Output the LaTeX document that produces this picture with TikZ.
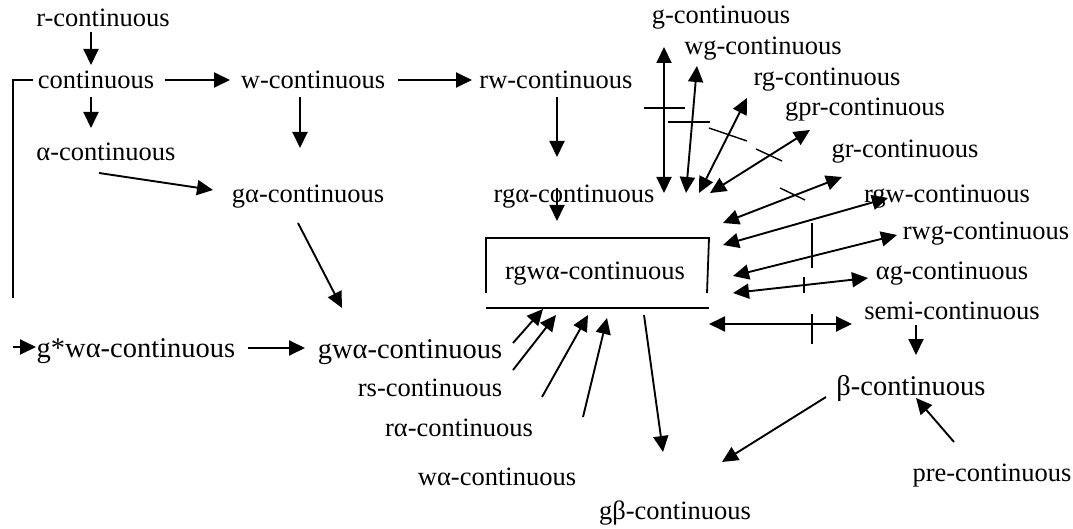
\documentclass[tikz,border=0pt]{standalone}
\usepackage{fontspec}
\setmainfont{Liberation Serif}
\usetikzlibrary{arrows.meta}
\begin{document}
\begin{tikzpicture}[x=1pt,y=-1pt,
  lbl/.style={inner sep=0pt, font=\fontsize{26.5}{30}\selectfont},
  big/.style={inner sep=0pt, font=\fontsize{28.5}{32}\selectfont},
  arr/.style={line width=1.9pt, -{Triangle[length=16pt,width=15pt]}},
  darr/.style={line width=1.9pt, {Triangle[length=16pt,width=15pt]}-{Triangle[length=16pt,width=15pt]}},
  tick/.style={line width=1.4pt},
  ln/.style={line width=1.8pt}]
\useasboundingbox (0,0) rectangle (1073,529);

% labels
\node[lbl] (r) at (103,18) {r-continuous};
\node[lbl] (c) at (96,80) {continuous};
\node[lbl] (a) at (106,152) {α-continuous};
\node[lbl] (w) at (313,80) {w-continuous};
\node[lbl] (ga) at (308,197) {gα-continuous};
\node[lbl] (rw) at (556,80) {rw-continuous};
\node[lbl] (rga) at (574,197) {rgα-continuous};
\node[lbl] (g) at (721,18) {g-continuous};
\node[lbl] (wg) at (763,49) {wg-continuous};
\node[lbl] (rg) at (827,80) {rg-continuous};
\node[lbl] (gpr) at (865,110) {gpr-continuous};
\node[lbl] (gr) at (905,152) {gr-continuous};
\node[lbl] (rgw) at (947,197) {rgw-continuous};
\node[lbl] (rwg) at (986,234) {rwg-continuous};
\node[lbl] (ag) at (952,274) {αg-continuous};
\node[lbl] (semi) at (952,311) {semi-continuous};
\node[big] (b) at (911,388) {β-continuous};
\node[lbl] (pre) at (992,476) {pre-continuous};
\node[lbl] (gb) at (675,513) {gβ-continuous};
\node[lbl] (wa) at (497,477) {wα-continuous};
\node[big] (gwa) at (410,352) {gwα-continuous};
\node[lbl] (rs) at (430,388) {rs-continuous};
\node[lbl] (ra) at (459,428) {rα-continuous};
\node[big] (gswa) at (136,351) {g*wα-continuous};
\node[lbl] (box) at (595,274) {rgwα-continuous};

% box around rgwa
\coordinate (bx1) at (486,293); \coordinate (bx2) at (486,238);
\coordinate (bx3) at (709,238); \coordinate (bx4) at (707,293);
\coordinate (bl1) at (486,308); \coordinate (bl2) at (709,308);
\draw[ln] (bx1) -- (bx2) -- (bx3) -- (bx4);
\draw[ln] (bl1) -- (bl2);

% left part
\coordinate (r1) at (91,32); \coordinate (r2) at (91,65);
\draw[arr] (r1) -- (r2);
\coordinate (c1) at (91,97); \coordinate (c2) at (91,128);
\draw[arr] (c1) -- (c2);
\coordinate (c3) at (165,80); \coordinate (c4) at (230,80);
\draw[arr] (c3) -- (c4);
\coordinate (w1) at (300,97); \coordinate (w2) at (300,148);
\draw[arr] (w1) -- (w2);
\coordinate (w3) at (398,80); \coordinate (w4) at (472,80);
\draw[arr] (w3) -- (w4);
\coordinate (a1) at (99,173); \coordinate (a2) at (213,190);
\draw[arr] (a1) -- (a2);
\coordinate (ga1) at (298,223); \coordinate (ga2) at (342,308);
\draw[arr] (ga1) -- (ga2);
\coordinate (s1) at (248,348); \coordinate (s2) at (305,348);
\draw[arr] (s1) -- (s2);
\coordinate (k1) at (33,80); \coordinate (k2) at (13,298);
\draw[ln] (k1) -| (k2);
\coordinate (k3) at (13,347); \coordinate (k4) at (36,347);
\draw[arr] (k3) -- (k4);

% rw / rga
\coordinate (rw1) at (557,97); \coordinate (rw2) at (557,157);
\draw[arr] (rw1) -- (rw2);
\coordinate (rg1) at (557,188); \coordinate (rg2) at (557,221);
\draw[arr] (rg1) -- (rg2);

% top-right double arrows with ticks
\coordinate (g1) at (664,47); \coordinate (g2) at (664,193);
\draw[darr] (g1) -- (g2);
\coordinate (gt1) at (644,108); \coordinate (gt2) at (685,108);
\draw[tick] (gt1) -- (gt2);

\coordinate (wg1) at (697,66); \coordinate (wg2) at (686,193);
\draw[darr] (wg1) -- (wg2);
\coordinate (wgt1) at (668,122); \coordinate (wgt2) at (710,122);
\draw[tick] (wgt1) -- (wgt2);

\coordinate (rgg1) at (747,98); \coordinate (rgg2) at (699,193);
\draw[darr] (rgg1) -- (rgg2);
\coordinate (rgt1) at (709,128); \coordinate (rgt2) at (747,141);
\draw[tick] (rgt1) -- (rgt2);

\coordinate (gp1) at (810,130); \coordinate (gp2) at (710,193);
\draw[darr] (gp1) -- (gp2);
\coordinate (gpt1) at (756,149); \coordinate (gpt2) at (782,161);
\draw[tick] (gpt1) -- (gpt2);

\coordinate (gr1) at (842,177); \coordinate (gr2) at (723,223);
\draw[darr] (gr1) -- (gr2);
\coordinate (grt1) at (780,188); \coordinate (grt2) at (805,200);
\draw[tick] (grt1) -- (grt2);

\coordinate (rgw1) at (888,198); \coordinate (rgw2) at (723,245);
\draw[darr] (rgw1) -- (rgw2);
\coordinate (rwg1) at (897,235); \coordinate (rwg2) at (733,276);
\draw[darr] (rwg1) -- (rwg2);
\coordinate (vt1) at (812,223); \coordinate (vt2) at (812,268);
\draw[tick] (vt1) -- (vt2);

\coordinate (ag1) at (868,278); \coordinate (ag2) at (733,293);
\draw[darr] (ag1) -- (ag2);
\coordinate (agt1) at (804,277); \coordinate (agt2) at (804,293);
\draw[tick] (agt1) -- (agt2);

\coordinate (sm1) at (852,324); \coordinate (sm2) at (709,324);
\draw[darr] (sm1) -- (sm2);
\coordinate (smt1) at (812,314); \coordinate (smt2) at (812,344);
\draw[tick] (smt1) -- (smt2);

% lower right
\coordinate (sb1) at (916,325); \coordinate (sb2) at (916,355);
\draw[arr] (sb1) -- (sb2);
\coordinate (pb1) at (954,442); \coordinate (pb2) at (916,398);
\draw[arr] (pb1) -- (pb2);
\coordinate (bg1) at (826,397); \coordinate (bg2) at (722,462);
\draw[arr] (bg1) -- (bg2);
\coordinate (xg1) at (644,315); \coordinate (xg2) at (663,452);
\draw[arr] (xg1) -- (xg2);

% lower arrows into box
\coordinate (gb1) at (513,343); \coordinate (gb2) at (543,309);
\draw[arr] (gb1) -- (gb2);
\coordinate (rsb1) at (513,370); \coordinate (rsb2) at (556,315);
\draw[arr] (rsb1) -- (rsb2);
\coordinate (rab1) at (542,397); \coordinate (rab2) at (588,315);
\draw[arr] (rab1) -- (rab2);
\coordinate (wab1) at (583,417); \coordinate (wab2) at (607,318);
\draw[arr] (wab1) -- (wab2);
\end{tikzpicture}
\end{document}
